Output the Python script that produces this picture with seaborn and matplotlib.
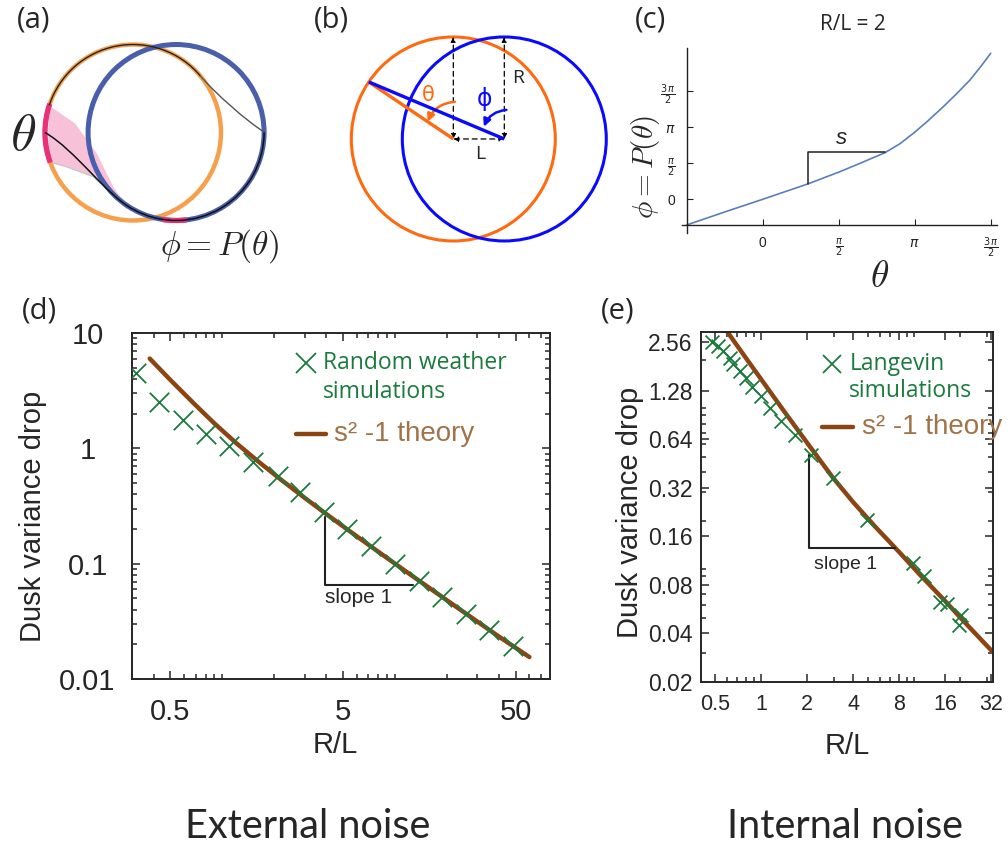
import numpy as np
import matplotlib
matplotlib.use("Agg")
import matplotlib.pyplot as plt
import seaborn as sns
from matplotlib.patches import Circle, Arc, FancyArrowPatch, PathPatch
from matplotlib.path import Path
from matplotlib.ticker import FixedLocator, FixedFormatter, LogLocator, NullFormatter

# ---------------- data ----------------
# (c) return map for R/L = 2, both axes in units of pi/2
map_theta = [-1.0, -0.474, 0.0, 0.592, 1.018, 1.281, 1.61, 1.807, 1.982, 2.158, 2.377, 2.553, 2.728, 2.882, 3.0]
map_phi = [-0.713, -0.333, 0.0, 0.426, 0.769, 1.0, 1.296, 1.546, 1.833, 2.148, 2.574, 2.935, 3.315, 3.722, 4.056]
pi_ticks = [0, 1, 2, 3]
pi_labels = ['0', r'$\frac{\pi}{2}$', r'$\pi$', r'$\frac{3\,\pi}{2}$']

# (d) external noise
ext_rl = [0.315, 0.43, 0.59, 0.81, 1.1, 1.5, 2.1, 2.8, 3.9, 5.3, 7.3, 10.0, 13.7, 18.8, 25.7, 35.0, 48.0]
ext_sim = [4.46, 2.53, 1.75, 1.34, 1.05, 0.76, 0.58, 0.417, 0.279, 0.200, 0.143, 0.099, 0.071, 0.051, 0.0365, 0.0267, 0.0194]
ext_theory_rl = [0.38, 0.5, 0.7, 0.9, 1.2, 1.6, 2.2, 3.0, 4.0, 5.5, 7.5, 10, 14, 20, 28, 40, 60]
ext_theory = [6.0, 3.92, 2.37, 1.645, 1.115, 0.778, 0.531, 0.372, 0.2695, 0.190, 0.136, 0.100, 0.070, 0.0481,
              0.0338, 0.0233, 0.0155]
ext_xticks = [0.5, 5, 50]
ext_yticks = [0.01, 0.1, 1, 10]
ext_slope_x = [3.93, 3.93, 12.7]
ext_slope_y = [0.253, 0.0656, 0.0656]

# (e) internal noise
int_rl = [0.476, 0.525, 0.563, 0.622, 0.657, 0.722, 0.802, 0.872, 0.997, 1.135, 1.35, 1.66, 2.13,
          2.95, 4.97, 9.82, 11.6, 14.8, 16.5, 20.5, 19.7]
int_sim = [2.58, 2.43, 2.27, 2.04, 1.89, 1.70, 1.53, 1.36, 1.18, 1.00, 0.83, 0.68, 0.51,
           0.368, 0.203, 0.109, 0.090, 0.0624, 0.061, 0.0517, 0.0448]
int_theory_rl = [0.55, 0.6, 0.8, 1.0, 1.4, 2.0, 2.95, 4.0, 5.6, 8, 11, 16, 22, 33]
int_theory = [3.35, 2.98, 2.03, 1.51, 0.968, 0.609, 0.37, 0.261, 0.183, 0.128, 0.092, 0.0635, 0.0458, 0.0305]
int_xticks = [0.5, 1, 2, 4, 8, 16, 32]
int_yticks = [0.02, 0.04, 0.08, 0.16, 0.32, 0.64, 1.28, 2.56]
int_slope_x = [2.06, 2.06, 7.57]
int_slope_y = [0.51, 0.136, 0.136]

# (a) sketch: two unit limit cycles, blue shifted right
a_centers = [(0.0, 0.0), (0.49, 0.0)]
a_radius = 1.0
a_theta_arc = (161, 200)
a_phi_arc = (261, 277)
a_fan_upper = [(-0.962, 0.3125), (-0.659, 0.104), (-0.413, -0.236), (-0.224, -0.616), (-0.072, -0.843)]
a_fan_lower = [(-0.962, -0.332), (-0.754, -0.389), (-0.451, -0.502), (-0.224, -0.71), (-0.072, -0.861)]
a_lower_path = [(-1.0, 0.0), (-0.65, -0.2), (-0.3, -0.72), (0.005, -0.875)]
a_upper_path = [(0.766, 0.643), (0.927, 0.452), (1.3, 0.12), (1.5, 0.0)]

# (b) sketch: R/L = 2
b_R, b_L = 2.0, 1.0
b_theta_deg = 56

# colours
green = '#1b7b3e'
brown = '#8b4513'
brown_text = '#a07349'
a_orange, a_blue, a_pink = '#f6a04c', '#4a5fab', '#e8317a'
b_orange, b_blue = '#ff6a10', '#0a0aff'

sns.set_theme(style='ticks')
plt.rcParams['font.family'] = ['Liberation Sans', 'DejaVu Sans']
plt.rcParams['axes.edgecolor'] = '#262626'

W, H = 1008, 849
fig = plt.figure(figsize=(W / 100, H / 100), dpi=100)


def px_box(l, t, r, b):
    return [l / W, 1 - b / H, (r - l) / W, (b - t) / H]


def fxy(x, y):
    return x / W, 1 - y / H


# ---------------- panel (a) ----------------
ax_a = fig.add_axes(px_box(0, 0, 330, 290))
ax_a.set_xlim(-1.511, 2.239)
ax_a.set_ylim(-1.79, 1.506)
ax_a.axis('off')
oc, bc = a_centers
fan = a_fan_upper + a_fan_lower[::-1]
ax_a.fill([p[0] for p in fan], [p[1] for p in fan], color='#f5b3cf', alpha=0.8, lw=0, zorder=1)
ax_a.plot([p[0] for p in a_fan_lower], [p[1] for p in a_fan_lower], color='#c8c8c8', lw=1, zorder=1)
ax_a.add_patch(Circle(oc, a_radius, fill=False, ec=a_orange, lw=3.2, zorder=2))
ax_a.add_patch(Circle(bc, a_radius, fill=False, ec=a_blue, lw=3.6, zorder=3))
ax_a.add_patch(Arc(oc, 2 * a_radius, 2 * a_radius, theta1=a_theta_arc[0], theta2=a_theta_arc[1],
                   edgecolor=a_pink, lw=3.8, zorder=4))
ax_a.add_patch(Arc(bc, 2 * a_radius, 2 * a_radius, theta1=a_phi_arc[0], theta2=a_phi_arc[1],
                   edgecolor=a_pink, lw=3.8, zorder=4))
curve_codes = [Path.MOVETO, Path.CURVE4, Path.CURVE4, Path.CURVE4]
ax_a.add_patch(Arc(oc, 2 * a_radius, 2 * a_radius, theta1=40, theta2=162, edgecolor='#222222', lw=1, zorder=5))
ax_a.add_patch(PathPatch(Path(a_upper_path, curve_codes), fill=False, ec='#555555', lw=1, zorder=5))
ax_a.add_patch(PathPatch(Path(a_lower_path, curve_codes), fill=False, ec='#111111', lw=1.1, zorder=5))
ax_a.add_patch(Arc(bc, 2 * a_radius, 2 * a_radius, theta1=241, theta2=360, edgecolor='#111111', lw=1.1, zorder=5))
ax_a.text(-1.244, -0.04, r'$\theta$', fontsize=38, ha='center', va='center', math_fontfamily='cm')
ax_a.text(0.989, -1.29, r'$\phi = P(\theta)$', fontsize=24, ha='center', va='center', math_fontfamily='cm')

# ---------------- panel (b) ----------------
ax_b = fig.add_axes(px_box(330, 0, 640, 260))
ax_b.set_xlim(-2.418, 3.661)
ax_b.set_ylim(-2.373, 2.725)
ax_b.axis('off')
ax_b.add_patch(Circle((0, 0), b_R, fill=False, ec=b_orange, lw=2.2))
ax_b.add_patch(Circle((b_L, 0), b_R, fill=False, ec=b_blue, lw=2.2))
t = np.deg2rad(b_theta_deg)
px_, py_ = -b_R * np.sin(t), b_R * np.cos(t)
ax_b.plot([0, px_], [0, py_], color=b_orange, lw=2.4, solid_capstyle='butt')
ax_b.plot([b_L, px_], [0, py_], color=b_blue, lw=2.4, solid_capstyle='butt')
for start, end in [((0, 0), (0, b_R)), ((b_L, 0), (b_L, b_R)), ((0, 0), (b_L, 0))]:
    ax_b.add_patch(FancyArrowPatch(start, end, arrowstyle='<|-|>', mutation_scale=7, lw=0.9,
                                   linestyle=(0, (4, 3)), color='black', shrinkA=0, shrinkB=0))
r_th = 0.73
ax_b.add_patch(FancyArrowPatch((0.03, r_th), (-r_th * np.sin(t) * 0.83, r_th * np.cos(t) * 0.83),
                               connectionstyle='arc3,rad=0.3', arrowstyle='-|>', mutation_scale=11,
                               lw=1.8, color=b_orange, shrinkA=0, shrinkB=0))
ax_b.add_patch(FancyArrowPatch((b_L + 0.04, 0.57), (0.6, 0.24),
                               connectionstyle='arc3,rad=0.3', arrowstyle='-|>', mutation_scale=11,
                               lw=1.8, color=b_blue, shrinkA=0, shrinkB=0))
ax_b.text(-0.5, 0.86, 'θ', color=b_orange, fontsize=15, ha='center', va='center', family='DejaVu Sans')
ax_b.text(0.62, 0.78, 'ϕ', color=b_blue, fontsize=17, ha='center', va='center', family='DejaVu Sans')
ax_b.text(1.275, 1.19, 'R', fontsize=14, ha='center', va='center', family='Open Sans')
ax_b.text(0.52, -0.3, 'L', fontsize=14, ha='center', va='center', family='Open Sans')

# ---------------- panel (c) ----------------
ax_c = fig.add_axes(px_box(682, 48, 997, 233))
half_pi = np.pi / 2
theta_rad = [v * half_pi for v in map_theta]
phi_rad = [v * half_pi for v in map_phi]
sns.lineplot(x=theta_rad, y=phi_rad, ax=ax_c, sort=False, estimator=None, color='#5a7fbd', lw=1.2)
ax_c.set_xlim(-1.062 * half_pi, 3.083 * half_pi)
ax_c.set_ylim(-0.936 * half_pi, 4.203 * half_pi)
ax_c.spines['left'].set_position(('data', theta_rad[0]))
ax_c.spines['bottom'].set_position(('data', phi_rad[0]))
ax_c.spines[['top', 'right']].set_visible(False)
for sp in ['left', 'bottom']:
    ax_c.spines[sp].set_linewidth(1.0)
    ax_c.spines[sp].set_color('#222222')
ax_c.set_xticks([v * half_pi for v in pi_ticks])
ax_c.set_xticklabels(pi_labels)
ax_c.set_yticks([v * half_pi for v in pi_ticks])
ax_c.set_yticklabels(pi_labels)
ax_c.tick_params(direction='in', length=4, width=0.8, labelsize=10, pad=8, colors='#222222')
ax_c.plot([theta_rad[3], theta_rad[3], theta_rad[6]], [phi_rad[3], 1.324 * half_pi, 1.324 * half_pi],
          color='#222222', lw=1.1)
ax_c.text(1.04 * half_pi, 1.70 * half_pi, 's', fontsize=16, style='italic', ha='center', va='center')
fig.text(*fxy(853, 25), 'R/L = 2', fontsize=15, ha='center', va='center', family='Open Sans')
fig.text(*fxy(880, 277), r'$\theta$', fontsize=27, ha='center', va='center', math_fontfamily='cm')
fig.text(*fxy(646, 167), r'$\phi = P(\theta)$', fontsize=21, ha='center', va='center', rotation=90,
         math_fontfamily='cm')


# ---------------- panels (d) and (e) ----------------
def style_log_axes(ax, xticks, yticks, xsize, ysize):
    ax.set_xscale('log')
    ax.set_yscale('log')
    ax.xaxis.set_major_locator(FixedLocator(xticks))
    ax.xaxis.set_major_formatter(FixedFormatter([f'{v:g}' for v in xticks]))
    ax.yaxis.set_major_locator(FixedLocator(yticks))
    ax.yaxis.set_major_formatter(FixedFormatter([f'{v:g}' for v in yticks]))
    for axis in (ax.xaxis, ax.yaxis):
        axis.set_minor_locator(LogLocator(base=10, subs=np.arange(1, 10), numticks=50))
        axis.set_minor_formatter(NullFormatter())
    ax.tick_params(which='both', direction='in', top=True, right=True, width=1.1, colors='#262626')
    ax.tick_params(which='major', length=6)
    ax.tick_params(which='minor', length=3.5)
    ax.tick_params(axis='x', labelsize=xsize)
    ax.tick_params(axis='y', labelsize=ysize)
    for sp in ax.spines.values():
        sp.set_linewidth(1.4)


ax_d = fig.add_axes(px_box(132, 333, 550, 679))
sns.lineplot(x=ext_theory_rl, y=ext_theory, ax=ax_d, estimator=None, color=brown, lw=3.2, zorder=2)
sns.scatterplot(x=ext_rl, y=ext_sim, ax=ax_d, marker='x', s=14 ** 2, color=green, linewidth=1.3, zorder=3)
style_log_axes(ax_d, ext_xticks, ext_yticks, 21, 21)
ax_d.set_xlim(0.30, 79)
ax_d.set_ylim(0.01, 10)
ax_d.tick_params(axis='y', pad=32)
ax_d.tick_params(axis='x', pad=14)
for lab in ax_d.get_yticklabels():
    lab.set_ha('center')
ax_d.plot(ext_slope_x, ext_slope_y, color='#222222', lw=1.5)
ax_d.text(ext_slope_x[0], ext_slope_y[1] * 0.78, 'slope 1', fontsize=15, ha='left', va='center')
ax_d.set_xlabel('R/L', fontsize=21)
ax_d.set_ylabel('Dusk variance drop', fontsize=21)
ax_d.xaxis.set_label_coords(0.486, -0.149)
ax_d.yaxis.set_label_coords(-0.2045, 0.469)
ax_d.plot([0.416], [0.913], transform=ax_d.transAxes, marker='x', ms=14, mew=1.3, color=green, ls='none')
ax_d.text(0.457, 0.913, 'Random weather', transform=ax_d.transAxes, color=green, fontsize=16.5,
          va='center', family='Open Sans')
ax_d.text(0.457, 0.829, 'simulations', transform=ax_d.transAxes, color=green, fontsize=16.5,
          va='center', family='Open Sans')
ax_d.plot([0.392, 0.464], [0.708, 0.708], transform=ax_d.transAxes, color=brown, lw=3.2)
ax_d.text(0.483, 0.708, 's² -1 theory', transform=ax_d.transAxes, color=brown_text, fontsize=20, va='center')

ax_e = fig.add_axes(px_box(701, 331.7, 993, 681.7))
sns.lineplot(x=int_theory_rl, y=int_theory, ax=ax_e, estimator=None, color=brown, lw=3.2, zorder=2)
sns.scatterplot(x=int_rl, y=int_sim, ax=ax_e, marker='x', s=10 ** 2, color=green, linewidth=1.3, zorder=3)
style_log_axes(ax_e, int_xticks, int_yticks, 15.5, 16.5)
ax_e.set_xlim(0.404, 33)
ax_e.set_ylim(0.02, 2.98)
ax_e.tick_params(axis='y', pad=6)
ax_e.tick_params(axis='x', pad=9)
ax_e.plot(int_slope_x, int_slope_y, color='#222222', lw=1.5)
ax_e.text(int_slope_x[0] * 1.07, int_slope_y[1] * 0.79, 'slope 1', fontsize=14, ha='left', va='center')
ax_e.set_xlabel('R/L', fontsize=21)
ax_e.set_ylabel('Dusk variance drop', fontsize=21)
ax_e.xaxis.set_label_coords(0.502, -0.144)
ax_e.yaxis.set_label_coords(-0.195, 0.483)
ax_e.plot([0.448], [0.908], transform=ax_e.transAxes, marker='x', ms=13, mew=1.3, color=green, ls='none')
ax_e.text(0.508, 0.908, 'Langevin', transform=ax_e.transAxes, color=green, fontsize=16.5,
          va='center', family='Open Sans')
ax_e.text(0.508, 0.83, 'simulations', transform=ax_e.transAxes, color=green, fontsize=16.5,
          va='center', family='Open Sans')
ax_e.plot([0.414, 0.522], [0.729, 0.729], transform=ax_e.transAxes, color=brown, lw=3.2)
ax_e.text(0.55, 0.729, 's² -1 theory', transform=ax_e.transAxes, color=brown_text, fontsize=20,
          va='center', clip_on=False)

# ---------------- panel letters and captions ----------------
for letter, (x, y) in zip('abcde', [(34, 20), (331, 20), (650, 20), (39.5, 311), (617.5, 311)]):
    fig.text(*fxy(x, y), f'({letter})', fontsize=21, ha='center', va='center', family='Open Sans')
fig.text(*fxy(308, 826), 'External noise', fontsize=28.5, ha='center', va='center', family='Lato')
fig.text(*fxy(845, 826), 'Internal noise', fontsize=28.5, ha='center', va='center', family='Lato')

fig.savefig('out.png', dpi=100)
